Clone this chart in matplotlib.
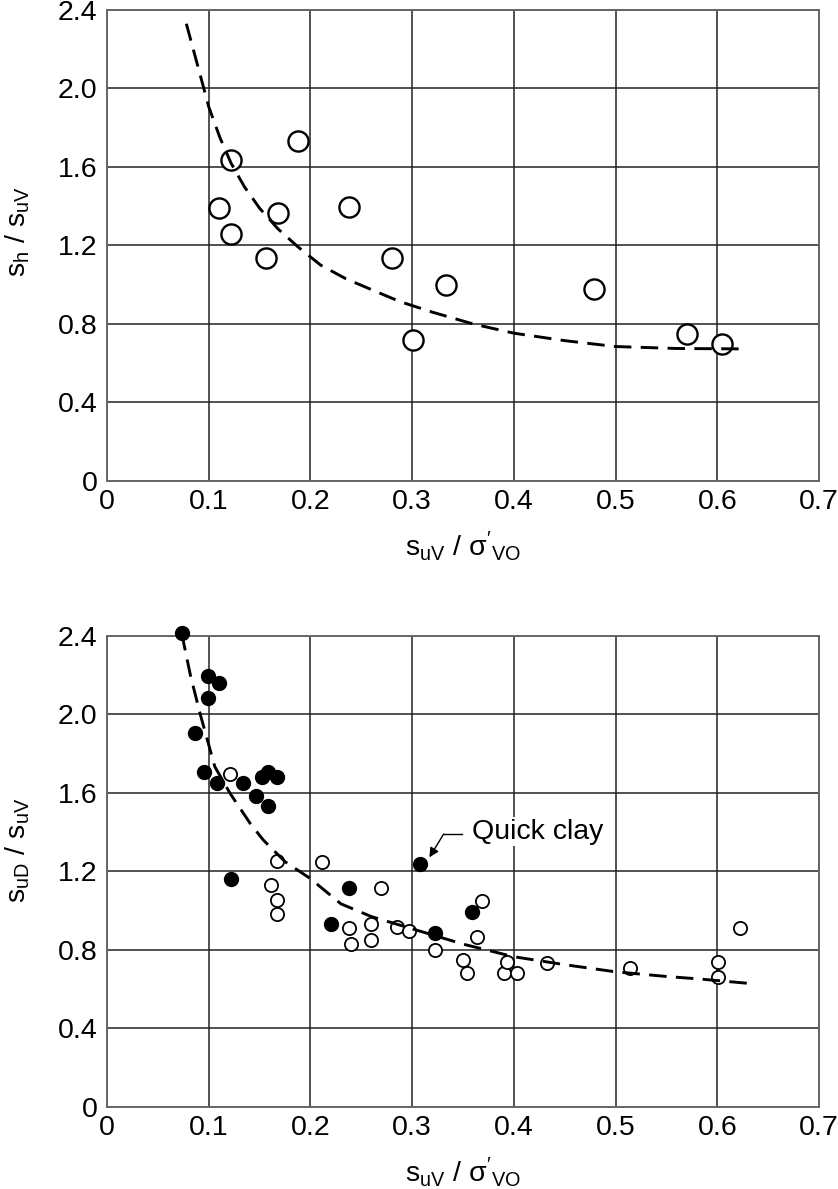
import matplotlib
matplotlib.use("Agg")
import matplotlib.pyplot as plt

plt.rcParams['font.family'] = ['Liberation Sans', 'DejaVu Sans']
plt.rcParams['mathtext.fontset'] = 'custom'
plt.rcParams['mathtext.rm'] = 'Liberation Sans'
plt.rcParams['mathtext.it'] = 'Liberation Sans:italic'

# top panel: s_h / s_uV
top_x = [0.110, 0.122, 0.122, 0.156, 0.168, 0.188, 0.238, 0.280, 0.301, 0.333, 0.479, 0.570, 0.605]
top_y = [1.39, 1.635, 1.26, 1.135, 1.365, 1.73, 1.395, 1.135, 0.72, 1.00, 0.98, 0.75, 0.70]

top_curve_x = [0.078, 0.09, 0.100, 0.111, 0.122, 0.135, 0.150, 0.168, 0.1875, 0.21, 0.235,
               0.26, 0.288, 0.32, 0.36, 0.40, 0.45, 0.50, 0.56, 0.624]
top_curve_y = [2.33, 2.10, 1.907, 1.75, 1.619, 1.50, 1.39, 1.285, 1.194, 1.10, 1.03,
               0.975, 0.914, 0.86, 0.80, 0.753, 0.715, 0.685, 0.675, 0.673]

# bottom panel: s_uD / s_uV
filled_x = [0.0734, 0.0996, 0.110, 0.0996, 0.0865, 0.0957, 0.1085, 0.134, 0.146, 0.152,
            0.1586, 0.1675, 0.1586, 0.122, 0.238, 0.220, 0.308, 0.322, 0.359]
filled_y = [2.414, 2.198, 2.159, 2.086, 1.906, 1.709, 1.651, 1.650, 1.587, 1.679,
            1.709, 1.680, 1.532, 1.163, 1.114, 0.931, 1.237, 0.885, 0.991]

open_x = [0.121, 0.1675, 0.211, 0.161, 0.1675, 0.1675, 0.269, 0.238, 0.240, 0.260, 0.260,
          0.285, 0.297, 0.322, 0.369, 0.3635, 0.350, 0.354, 0.390, 0.403, 0.393, 0.433,
          0.514, 0.601, 0.601, 0.622]
open_y = [1.697, 1.252, 1.250, 1.131, 1.055, 0.983, 1.114, 0.914, 0.831, 0.932, 0.851,
          0.916, 0.899, 0.800, 1.048, 0.866, 0.749, 0.685, 0.685, 0.685, 0.740, 0.735,
          0.707, 0.737, 0.664, 0.912]

bot_curve_x = [0.0734, 0.082, 0.0914, 0.106, 0.121, 0.1406, 0.1537, 0.175, 0.1996, 0.23,
               0.26, 0.298, 0.35, 0.3995, 0.45, 0.4995, 0.55, 0.583, 0.637]
bot_curve_y = [2.414, 2.20, 2.006, 1.734, 1.598, 1.446, 1.360, 1.25, 1.165, 1.035,
               0.97, 0.911, 0.83, 0.766, 0.725, 0.689, 0.665, 0.652, 0.627]

x_ticks = [0, 0.1, 0.2, 0.3, 0.4, 0.5, 0.6, 0.7]
x_labels = ['0', '0.1', '0.2', '0.3', '0.4', '0.5', '0.6', '0.7']
y_ticks = [0, 0.4, 0.8, 1.2, 1.6, 2.0, 2.4]
y_labels = ['0', '0.4', '0.8', '1.2', '1.6', '2.0', '2.4']

x_title = r"$\mathregular{s_{uV}\ /\ \sigma'_{VO}}$"
FS = 20.5


def style_axes(ax, ylabel, label_y):
    ax.set_xlim(0, 0.7)
    ax.set_ylim(0, 2.4)
    ax.set_xticks(x_ticks)
    ax.set_xticklabels(x_labels)
    ax.set_yticks(y_ticks)
    ax.set_yticklabels(y_labels)
    ax.tick_params(axis='both', length=0, labelsize=FS)
    ax.tick_params(axis='x', pad=6)
    ax.tick_params(axis='y', pad=7)
    ax.grid(True, color='#222222', linewidth=1.1)
    ax.set_axisbelow(True)
    for s in ax.spines.values():
        s.set_color('#666666')
        s.set_linewidth(1.4)
    ax.set_xlabel(x_title, fontsize=FS, labelpad=10)
    ax.set_ylabel(ylabel, fontsize=FS)
    ax.yaxis.set_label_coords(-0.106, label_y)


fig = plt.figure(figsize=(8.38, 11.89), dpi=100)

ax1 = fig.add_axes([0.1277, 0.5955, 0.8496, 0.3961])
ax1.plot(top_x, top_y, 'o', ms=14.5, mfc='white', mec='black', mew=1.7, zorder=3)
ax1.plot(top_curve_x, top_curve_y, color='black', lw=2.1, linestyle=(0, (6, 3.2)), zorder=4)
style_axes(ax1, r"$\mathregular{s_h\ /\ s_{uV}}$", 0.53)

ax2 = fig.add_axes([0.1277, 0.069, 0.8496, 0.3961])
ax2.plot(open_x, open_y, 'o', ms=9.5, mfc='white', mec='black', mew=1.3, zorder=3)
ax2.plot(filled_x, filled_y, 'o', ms=10, mfc='black', mec='black', zorder=3, clip_on=False)
ax2.plot(bot_curve_x, bot_curve_y, color='black', lw=2.1, linestyle=(0, (6, 3.2)), zorder=4)
style_axes(ax2, r"$\mathregular{s_{uD}\ /\ s_{uV}}$", 0.545)

# Quick clay label with bent arrow
ax2.plot([0.349, 0.331], [1.391, 1.391], color='black', lw=1, zorder=5)
ax2.annotate('', xy=(0.317, 1.272), xytext=(0.331, 1.391),
             arrowprops=dict(arrowstyle='-|>', color='black', lw=1, mutation_scale=14,
                             shrinkA=0, shrinkB=0), zorder=5)
ax2.text(0.3586, 1.403, 'Quick clay', fontsize=FS, va='center', ha='left', zorder=6,
         bbox=dict(facecolor='white', edgecolor='none', pad=1))

plt.savefig('out.png', dpi=100, facecolor='w')
